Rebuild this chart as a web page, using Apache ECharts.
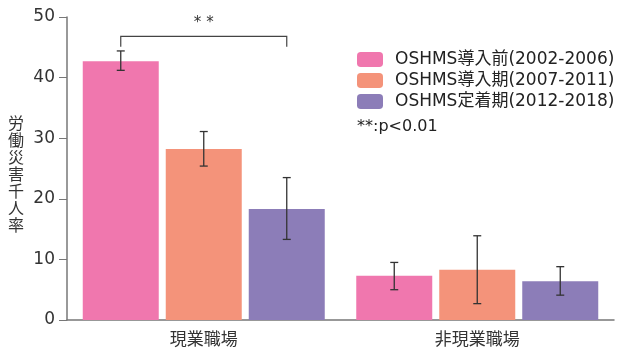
<!DOCTYPE html>
<html><head><meta charset="utf-8">
<script src="https://cdn.jsdelivr.net/npm/echarts@6/dist/echarts.min.js"></script>
<style>html,body{margin:0;padding:0;background:#fff}#c{width:619px;height:349px}</style>
</head><body><div id="c"></div>
<script>
const categories = ['現業職場', '非現業職場'];
const seriesNames = ['OSHMS導入前(2002-2006)', 'OSHMS導入期(2007-2011)', 'OSHMS定着期(2012-2018)'];
const means = [[42.7, 7.3], [28.2, 8.3], [18.3, 6.4]];
const lows  = [[41.2, 5.0], [25.4, 2.7], [13.3, 4.1]];
const highs = [[44.4, 9.5], [31.1, 13.9], [23.5, 8.8]];
const yTicks = [0, 10, 20, 30, 40, 50];
const colors = ['#F077AE', '#F4937A', '#8C7DB8'];
const bracket = {cat: 0, from: 0, to: 2, top: 46.8, leg: 45.1, label: '* *', labelY: 49.0};
const note = '**:p<0.01';
const yName = '労働災害千人率';

const FONT = '"DejaVu Sans", "Noto Sans CJK JP", sans-serif';
const CJK = '"Noto Sans CJK JP", sans-serif';
const BW = 76, GAP = 7;
const chart = echarts.init(document.getElementById('c'));

const barSeries = seriesNames.map((n, i) => ({
  name: n, type: 'bar', data: means[i], barWidth: BW, barGap: (GAP / BW * 100) + '%',
  itemStyle: {color: colors[i]}, z: 1
}));
const errSeries = seriesNames.map((n, i) => ({
  type: 'custom', name: n + '_err', z: 5, silent: true,
  data: categories.map((c, k) => [k, lows[i][k], highs[i][k]]),
  renderItem: (params, api) => {
    const k = api.value(0);
    const p1 = api.coord([k, api.value(1)]);
    const p2 = api.coord([k, api.value(2)]);
    const x = p1[0] + (i - 1) * (BW + GAP);
    const cw = 4;
    const st = {stroke: '#333', lineWidth: 1.3};
    return {type: 'group', children: [
      {type: 'line', shape: {x1: x, y1: p1[1], x2: x, y2: p2[1]}, style: st},
      {type: 'line', shape: {x1: x - cw, y1: p1[1], x2: x + cw, y2: p1[1]}, style: st},
      {type: 'line', shape: {x1: x - cw, y1: p2[1], x2: x + cw, y2: p2[1]}, style: st}
    ]};
  }
}));
const brSeries = {
  type: 'custom', z: 5, silent: true,
  data: [[bracket.cat, bracket.top, bracket.leg, bracket.labelY]],
  renderItem: (params, api) => {
    const k = api.value(0);
    const pt = api.coord([k, api.value(1)]);
    const pl = api.coord([k, api.value(2)]);
    const pL = api.coord([k, api.value(3)]);
    const xa = pt[0] + (bracket.from - 1) * (BW + GAP);
    const xb = pt[0] + (bracket.to - 1) * (BW + GAP);
    const st = {stroke: '#444', lineWidth: 1.2, fill: null};
    return {type: 'group', children: [
      {type: 'polyline', shape: {points: [[xa, pl[1]], [xa, pt[1]], [xb, pt[1]], [xb, pl[1]]]}, style: st},
      {type: 'text', style: {text: bracket.label, x: (xa + xb) / 2, y: pL[1], align: 'center', verticalAlign: 'middle', fill: '#333', font: '15px ' + FONT}}
    ]};
  }
};

chart.setOption({
  animation: false,
  textStyle: {fontFamily: FONT},
  grid: {left: 67, right: 5, top: 17, bottom: 29},
  legend: {
    data: seriesNames, orient: 'vertical', left: 357, top: 51, padding: 0,
    itemWidth: 26, itemHeight: 15, itemGap: 4,
    textStyle: {fontSize: 17, lineHeight: 17, color: '#222', fontFamily: FONT, padding: [0, 0, 0, 7]}
  },
  graphic: [
    {type: 'text', left: 357, top: 119, style: {text: note, fontSize: 16, fill: '#222', fontFamily: FONT}},
    {type: 'text', left: 8, top: 114, style: {text: yName.split('').join('\n'), fontSize: 16, lineHeight: 17, fill: '#333', fontFamily: CJK}}
  ],
  xAxis: {
    type: 'category', data: categories,
    axisLine: {lineStyle: {color: '#777', width: 1.5}}, axisTick: {show: false},
    axisLabel: {fontSize: 17, color: '#333', margin: 10, fontFamily: CJK}
  },
  yAxis: {
    type: 'value', min: 0, max: 50, interval: 10,
    axisLine: {show: true, lineStyle: {color: '#777', width: 1.5}},
    axisTick: {show: true, length: 8, lineStyle: {color: '#777'}},
    splitLine: {show: false},
    axisLabel: {fontSize: 17, color: '#333', margin: 12, formatter: v => yTicks.includes(v) ? String(v) : ''}
  },
  series: [...barSeries, ...errSeries, brSeries]
});
</script></body></html>
